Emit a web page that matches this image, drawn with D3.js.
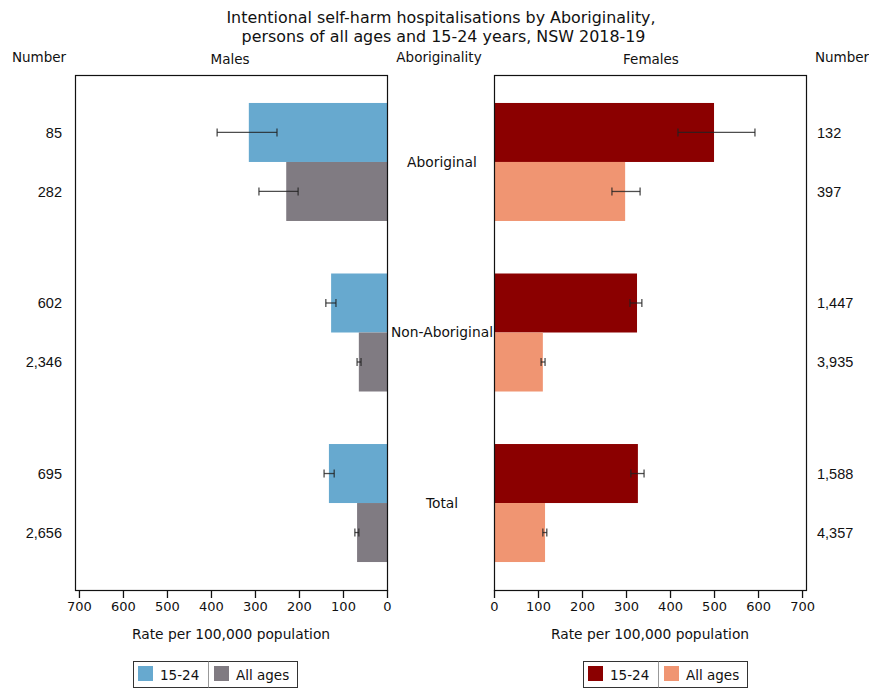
<!DOCTYPE html>
<html>
<head>
<meta charset="utf-8">
<script src="https://cdn.jsdelivr.net/npm/d3@7"></script>
<style>
  body { margin: 0; background: #fff; }
  text { font-family: "DejaVu Sans", Verdana, sans-serif; fill: #111; }
  .axis text { font-size: 13px; }
  .num { font-family: "Liberation Sans", Arial, sans-serif; }
</style>
</head>
<body>
<div id="visualization"></div>
<script>
const groups = ['Aboriginal', 'Non-Aboriginal', 'Total'];
const ages = ['15-24', 'All ages'];

// rates per 100,000, [15-24, all ages] per group
const maleRate = [[314, 229], [127, 64], [132, 68]];
const maleLow = [[250, 202], [116, 59], [120, 64]];
const maleHigh = [[386, 291], [139, 68], [143, 73]];
const maleNumber = [['85', '282'], ['602', '2,346'], ['695', '2,656']];

const femaleRate = [[500, 298], [325, 111], [327, 116]];
const femaleLow = [[418, 268], [309, 107], [311, 111]];
const femaleHigh = [[593, 332], [336, 116], [341, 120]];
const femaleNumber = [['132', '397'], ['1,447', '3,935'], ['1,588', '4,357']];

const tickValues = [0, 100, 200, 300, 400, 500, 600, 700];
const maleColors = ['#67a9cf', '#807b82'];
const femaleColors = ['#8b0000', '#f09572'];

const width = 869;
const height = 688;
const plotTop = 75;
const plotBottom = 590;

const svg = d3.select('#visualization').append('svg')
  .attr('width', width)
  .attr('height', height);

const yGroup = d3.scaleBand()
  .domain(groups)
  .range([plotTop, plotBottom])
  .paddingInner(0.308)
  .paddingOuter(0.164);

const yAge = d3.scaleBand()
  .domain(ages)
  .range([0, yGroup.bandwidth()]);

const xMale = d3.scaleLinear().domain([0, 709]).range([387, 75]);
const xFemale = d3.scaleLinear().domain([0, 709]).range([494, 806]);

function rows(rate, low, high, num) {
  const out = [];
  groups.forEach((g, i) => {
    ages.forEach((a, j) => {
      out.push({ group: g, age: a, idx: j, rate: rate[i][j], low: low[i][j], high: high[i][j], num: num[i][j] });
    });
  });
  return out;
}

function drawPanel(data, x, colors, numX, numAnchor) {
  const g = svg.append('g');
  const x0 = x(0);

  g.selectAll('rect.bar')
    .data(data)
    .enter()
    .append('rect')
    .attr('class', 'bar')
    .attr('x', (d) => Math.min(x0, x(d.rate)))
    .attr('y', (d) => yGroup(d.group) + yAge(d.age))
    .attr('width', (d) => Math.abs(x(d.rate) - x0))
    .attr('height', yAge.bandwidth())
    .style('fill', (d) => colors[d.idx]);

  // error bars
  const err = g.selectAll('g.err')
    .data(data)
    .enter()
    .append('g')
    .attr('class', 'err')
    .attr('transform', (d) => `translate(0,${yGroup(d.group) + yAge(d.age) + yAge.bandwidth() / 2})`)
    .style('stroke', '#222')
    .style('stroke-opacity', 0.8)
    .style('stroke-width', 1.3);
  err.append('line')
    .attr('x1', (d) => x(d.low))
    .attr('x2', (d) => x(d.high));
  err.append('line')
    .attr('x1', (d) => x(d.low)).attr('x2', (d) => x(d.low))
    .attr('y1', -4).attr('y2', 4);
  err.append('line')
    .attr('x1', (d) => x(d.high)).attr('x2', (d) => x(d.high))
    .attr('y1', -4).attr('y2', 4);

  // frame
  const [r0, r1] = x.range();
  g.append('rect')
    .attr('x', Math.min(r0, r1) + 0.5)
    .attr('y', plotTop + 0.5)
    .attr('width', Math.abs(r1 - r0))
    .attr('height', plotBottom - plotTop)
    .style('fill', 'none')
    .style('stroke', '#111')
    .style('stroke-width', 1.2);

  const axis = g.append('g')
    .attr('class', 'axis')
    .attr('transform', `translate(0,${plotBottom})`)
    .call(d3.axisBottom(x).tickValues(tickValues).tickSize(8).tickPadding(4));
  axis.select('.domain').remove();
  axis.selectAll('line').style('stroke', '#111').style('stroke-width', 1.3);

  g.append('text')
    .attr('x', (r0 + r1) / 2)
    .attr('y', 639)
    .attr('text-anchor', 'middle')
    .style('font-size', '13.8px')
    .text('Rate per 100,000 population');

  g.selectAll('text.num')
    .data(data)
    .enter()
    .append('text')
    .attr('class', 'num')
    .attr('x', numX)
    .attr('y', (d) => yGroup(d.group) + yAge(d.age) + yAge.bandwidth() / 2)
    .attr('dy', '0.35em')
    .attr('text-anchor', numAnchor)
    .style('font-size', '14.5px')
    .text((d) => d.num);
}

function drawLegend(x0, colors) {
  const g = svg.append('g').attr('transform', `translate(${x0},661)`);
  g.append('rect')
    .attr('x', 0.5).attr('y', 0.5)
    .attr('width', 164).attr('height', 26)
    .style('fill', '#fff')
    .style('stroke', '#333');
  g.append('line')
    .attr('x1', 75.5).attr('x2', 75.5)
    .attr('y1', 0.5).attr('y2', 26.5)
    .style('stroke', '#999');
  const offsets = [5, 81];
  ages.forEach((a, i) => {
    g.append('rect')
      .attr('x', offsets[i])
      .attr('y', 5)
      .attr('width', 15)
      .attr('height', 15)
      .style('fill', colors[i]);
    g.append('text')
      .attr('x', offsets[i] + 22)
      .attr('y', 19)
      .style('font-size', '13.5px')
      .text(a);
  });
}

drawPanel(rows(maleRate, maleLow, maleHigh, maleNumber), xMale, maleColors, 62, 'end');
drawPanel(rows(femaleRate, femaleLow, femaleHigh, femaleNumber), xFemale, femaleColors, 817, 'start');

// category labels in the gap
svg.selectAll('text.cat')
  .data(groups)
  .enter()
  .append('text')
  .attr('class', 'cat')
  .attr('x', 442)
  .attr('y', (d) => yGroup(d) + yGroup.bandwidth() / 2)
  .attr('dy', '0.35em')
  .attr('text-anchor', 'middle')
  .style('font-size', '13.8px')
  .text((d) => d);

// titles and headers
const titleLines = ['Intentional self-harm hospitalisations by Aboriginality,', ' persons of all ages and 15-24 years, NSW 2018-19'];
svg.selectAll('text.title')
  .data(titleLines)
  .enter()
  .append('text')
  .attr('class', 'title')
  .attr('x', 441)
  .attr('y', (d, i) => 23 + i * 19)
  .attr('text-anchor', 'middle')
  .style('font-size', '15.9px')
  .style('white-space', 'pre')
  .text((d) => d);

const headers = [['Number', 39], ['Males', 230], ['Aboriginality', 439], ['Females', 651], ['Number', 842]];
svg.selectAll('text.head')
  .data(headers)
  .enter()
  .append('text')
  .attr('class', 'head')
  .attr('x', (d) => d[1])
  .attr('y', (d) => (d[0] === 'Males' || d[0] === 'Females' ? 64 : 62))
  .attr('text-anchor', 'middle')
  .style('font-size', '13.5px')
  .text((d) => d[0]);

drawLegend(133, maleColors);
drawLegend(583, femaleColors);
</script>
</body>
</html>
